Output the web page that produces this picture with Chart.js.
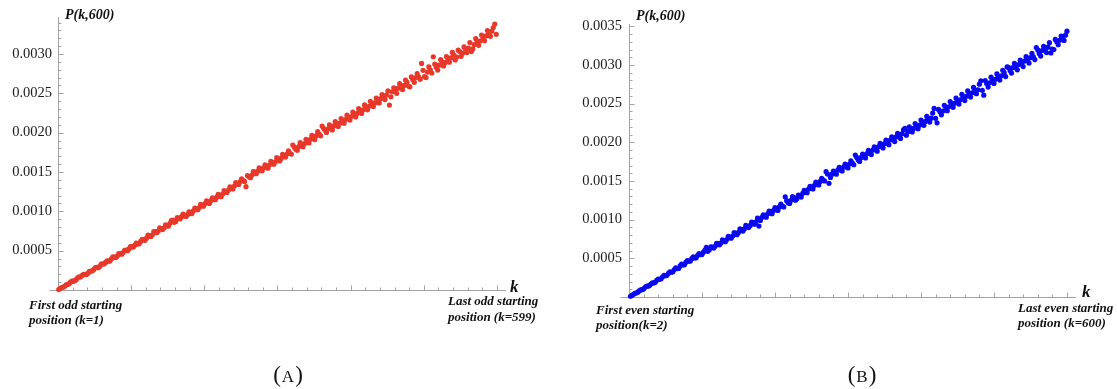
<!DOCTYPE html>
<html>
<head>
<meta charset="utf-8">
<title>P(k,600)</title>
<script src="https://cdn.jsdelivr.net/npm/chart.js@4.4.1/dist/chart.umd.min.js"></script>
<style>
    html, body { margin: 0; padding: 0; background: #fff; }
    body { position: relative; width: 1117px; height: 389px; overflow: hidden; }
    .panel { position: absolute; top: 0; height: 389px; }
    #panelA { left: 0; width: 560px; }
    #panelB { left: 560px; width: 557px; }
</style>
</head>
<body>
<div class="panel" id="panelA"><canvas id="chartA"></canvas></div>
<div class="panel" id="panelB"><canvas id="chartB"></canvas></div>
<script>
// P(k,600), in units of 1e-6.
// odd starts: k = 1, 5, 9, ... 597 and then 599
const oddValues = [
    6, 31, 47, 70, 99, 112, 134, 166, 185, 198,
    214, 240, 262, 289, 300, 331, 350, 366, 395, 418,
    430, 462, 476, 507, 522, 548, 571, 585, 618, 638,
    660, 690, 702, 741, 750, 782, 790, 815, 848, 889,
    872, 912, 935, 944, 958, 975, 1005, 1031, 1048, 1072,
    1098, 1110, 1135, 1158, 1180, 1192, 1220, 1248, 1270, 1295,
    1322, 1352, 1378, 1390, 1313, 1440, 1462, 1498, 1510, 1530,
    1552, 1560, 1588, 1618, 1630, 1668, 1672, 1705, 1728, 1738,
    1842, 1790, 1822, 1848, 1862, 1890, 1915, 1934, 1962, 1980,
    2084, 2030, 2045, 2062, 2085, 2108, 2120, 2150, 2165, 2190,
    2205, 2232, 2244, 2280, 2290, 2325, 2335, 2370, 2378, 2410,
    2432, 2445, 2478, 2350, 2520, 2525, 2565, 2590, 2600, 2640,
    2583, 2675, 2700, 2710, 2880, 2712, 2770, 2795, 2965, 2830,
    2858, 2900, 2890, 2940, 2950, 2985, 2960, 3030, 3010, 3062,
    3075, 3030, 3120, 3160, 3165, 3205, 3230, 3262, 3290, 3380,
    3250
];
// odd starts in between: k = 3, 7, 11, ... 595
const oddValuesMid = [
    20, 36, 64, 80, 112, 118, 158, 168, 200, 196,
    238, 244, 285, 284, 328, 332, 372, 370, 420, 414,
    462, 455, 505, 500, 552, 545, 595, 588, 645, 632,
    698, 680, 742, 728, 790, 770, 828, 812, 882, 860,
    920, 905, 965, 935, 992, 972, 1042, 1020, 1088, 1066,
    1132, 1100, 1172, 1148, 1215, 1185, 1262, 1240, 1310, 1285,
    1365, 1340, 1412, 1380, 1455, 1428, 1505, 1478, 1552, 1515,
    1590, 1548, 1635, 1598, 1682, 1640, 1725, 1690, 1770, 1728,
    1815, 1775, 1872, 1822, 1915, 1870, 1965, 1912, 2012, 1960,
    2055, 2002, 2098, 2035, 2140, 2078, 2180, 2120, 2222, 2160,
    2262, 2200, 2305, 2245, 2352, 2290, 2398, 2332, 2440, 2378,
    2485, 2420, 2530, 2455, 2570, 2500, 2625, 2548, 2668, 2592,
    2708, 2640, 2752, 2678, 2792, 2700, 2835, 2758, 2872, 2795,
    2930, 2848, 2968, 2895, 3020, 2925, 3048, 2970, 3090, 3018,
    3145, 3065, 3195, 3110, 3240, 3168, 3298, 3225, 3335
];
// even starts: k = 2, 6, 10, ... 598 and then 600
const evenValues = [
    10, 35, 52, 80, 95, 125, 140, 168, 182, 215,
    228, 262, 275, 306, 320, 355, 368, 402, 415, 450,
    462, 496, 505, 540, 548, 580, 642, 612, 645, 655,
    690, 698, 730, 742, 775, 788, 822, 835, 870, 880,
    915, 925, 960, 972, 917, 1030, 1040, 1075, 1085, 1120,
    1130, 1165, 1175, 1296, 1220, 1250, 1285, 1270, 1300, 1340,
    1358, 1395, 1405, 1445, 1458, 1495, 1510, 1620, 1470, 1588,
    1600, 1640, 1645, 1680, 1685, 1720, 1730, 1835, 1770, 1805,
    1815, 1855, 1860, 1900, 1905, 1945, 1950, 1985, 1990, 2030,
    2032, 2070, 2075, 2110, 2180, 2138, 2175, 2180, 2215, 2222,
    2260, 2270, 2305, 2312, 2438, 2252, 2395, 2405, 2450, 2460,
    2495, 2505, 2540, 2550, 2585, 2595, 2630, 2640, 2675, 2680,
    2795, 2610, 2760, 2770, 2810, 2815, 2850, 2860, 2900, 2975,
    2930, 2965, 2970, 3005, 3015, 3050, 3060, 3095, 3105, 3226,
    3150, 3185, 3195, 3230, 3156, 3200, 3300, 3320, 3340, 3385,
    3437
];
// even starts in between: k = 4, 8, 12, ... 596
const evenValuesMid = [
    20, 48, 62, 94, 104, 140, 148, 184, 190, 230,
    236, 280, 280, 326, 325, 376, 370, 424, 418, 472,
    464, 518, 506, 562, 548, 606, 590, 648, 632, 695,
    675, 738, 715, 784, 760, 832, 806, 880, 852, 925,
    898, 970, 942, 1020, 990, 1062, 1032, 1110, 1078, 1155,
    1120, 1200, 1165, 1245, 1210, 1298, 1252, 1318, 1292, 1380,
    1348, 1432, 1398, 1485, 1448, 1535, 1500, 1590, 1545, 1628,
    1588, 1678, 1630, 1718, 1668, 1762, 1710, 1805, 1752, 1848,
    1798, 1895, 1842, 1942, 1885, 1988, 1928, 2030, 1970, 2072,
    2010, 2115, 2050, 2160, 2092, 2200, 2135, 2242, 2175, 2288,
    2220, 2335, 2262, 2378, 2310, 2425, 2355, 2478, 2408, 2528,
    2452, 2572, 2495, 2620, 2540, 2665, 2585, 2710, 2628, 2752,
    2672, 2798, 2715, 2842, 2762, 2885, 2805, 2932, 2850, 2968,
    2895, 3020, 2938, 3062, 2980, 3108, 3025, 3152, 3070, 3195,
    3115, 3242, 3160, 3288, 3205, 3330, 3262, 3375, 3318
];
const kStep = 4;

const yLabelsA = ["0.0005", "0.0010", "0.0015", "0.0020", "0.0025", "0.0030"];
const yLabelsB = ["0.0005", "0.0010", "0.0015", "0.0020", "0.0025", "0.0030", "0.0035"];

const axisColor = "#a3a3a3";
const serif = '"Liberation Serif", "Times New Roman", serif';

// sampled values -> scatter points; the optional last value sits at k = last
function toPoints(values, first, last) {
    return values.map((v, i) => ({
        x: last && i === values.length - 1 ? last : first + kStep * i,
        y: v / 1e6
    }));
}

// minor ticks, axis stub and all the labels around one panel
function panelDecor(p) {
    return {
        id: "panelDecor",
        beforeDatasetsDraw(chart) {
            const { ctx, chartArea, scales } = chart;
            const x = scales.x, y = scales.y;
            const left = Math.round(chartArea.left) + 0.5;
            const bottom = Math.round(chartArea.bottom) + 0.5;

            ctx.save();
            ctx.strokeStyle = axisColor;
            ctx.lineWidth = 1;
            ctx.beginPath();
            // x axis runs a bit past the origin
            ctx.moveTo(left - 9, bottom);
            ctx.lineTo(left, bottom);
            // y ticks every 0.0001, longer every 0.0005
            for (let i = 1; i * 0.0001 <= y.max; i++) {
                const py = Math.round(y.getPixelForValue(i * 0.0001)) + 0.5;
                ctx.moveTo(left, py);
                ctx.lineTo(left + (i % 5 === 0 ? 5 : 3), py);
            }
            // x ticks every 20, longer every 100
            for (let i = 1; i * 20 <= 600; i++) {
                const px = Math.round(x.getPixelForValue(i * 20)) + 0.5;
                ctx.moveTo(px, bottom);
                ctx.lineTo(px, bottom - (i % 5 === 0 ? 5 : 3));
            }
            ctx.stroke();

            ctx.fillStyle = "#111";
            ctx.textBaseline = "alphabetic";
            ctx.textAlign = "left";
            ctx.font = "italic bold 14px " + serif;
            ctx.fillText("P(k,600)", p.title.x, p.title.y);

            ctx.font = "italic bold 17px " + serif;
            ctx.fillText("k", p.kLabel.x, p.kLabel.y);

            ctx.font = "italic bold 13px " + serif;
            p.notes.forEach((n) => ctx.fillText(n.text, n.x, n.y));

            // caption like "(A)" with a small capital letter
            const big = "23px " + serif, small = "17px " + serif;
            ctx.font = big;
            const wp = ctx.measureText("(").width;
            const wq = ctx.measureText(")").width;
            ctx.font = small;
            const wl = ctx.measureText(p.caption.letter).width;
            let cx = p.caption.x - (wp + wl + wq + 2) / 2;
            ctx.font = big;
            ctx.fillText("(", cx, p.caption.y);
            cx += wp + 1;
            ctx.font = small;
            ctx.fillText(p.caption.letter, cx, p.caption.y);
            cx += wl + 1;
            ctx.font = big;
            ctx.fillText(")", cx, p.caption.y);
            ctx.restore();
        }
    };
}

function makePanel(canvasId, p) {
    return new Chart(document.getElementById(canvasId), {
        type: "scatter",
        data: {
            datasets: [{
                data: p.points,
                backgroundColor: p.color,
                borderWidth: 0,
                pointRadius: 2.6,
                clip: false
            }]
        },
        options: {
            responsive: true,
            maintainAspectRatio: false,
            animation: false,
            events: [],
            layout: {
                padding: { left: 0, top: p.area.top, right: p.width - p.area.right, bottom: 0 }
            },
            plugins: {
                legend: { display: false },
                tooltip: { enabled: false }
            },
            scales: {
                x: {
                    type: "linear",
                    min: 0,
                    max: 611,
                    grid: { display: false, drawTicks: false },
                    border: { display: true, color: axisColor },
                    ticks: { display: false },
                    afterFit(scale) { scale.height = p.height - p.area.bottom; }
                },
                y: {
                    type: "linear",
                    min: 0,
                    max: p.yMax,
                    grid: { display: false, drawTicks: false },
                    border: { display: true, color: axisColor },
                    ticks: {
                        padding: p.labelGap,
                        color: "#1c1c1c",
                        font: { family: serif, size: 14.5 },
                        callback: (v) => v.toFixed(4)
                    },
                    afterBuildTicks(scale) {
                        scale.ticks = p.yLabels.map((t) => ({ value: parseFloat(t) }));
                    },
                    afterFit(scale) { scale.width = p.area.left; }
                }
            }
        },
        plugins: [panelDecor(p)]
    });
}

makePanel("chartA", {
    points: toPoints(oddValues, 1, 599).concat(toPoints(oddValuesMid, 3)),
    color: "#e8382a",
    yLabels: yLabelsA,
    yMax: 0.00347,
    width: 560,
    height: 389,
    area: { left: 58, top: 17, right: 505, bottom: 290 },
    labelGap: 6,
    title: { x: 65, y: 18.5 },
    kLabel: { x: 510, y: 292 },
    notes: [
        { text: "First odd starting", x: 29, y: 309 },
        { text: "position (k=1)", x: 29, y: 324 },
        { text: "Last odd starting", x: 448, y: 305 },
        { text: "position (k=599)", x: 448, y: 320.5 }
    ],
    caption: { letter: "A", x: 288, y: 382 }
});

makePanel("chartB", {
    points: toPoints(evenValues, 2, 600).concat(toPoints(evenValuesMid, 4)),
    color: "#0a0af0",
    yLabels: yLabelsB,
    yMax: 0.00353,
    width: 557,
    height: 389,
    area: { left: 69, top: 24, right: 515, bottom: 297 },
    labelGap: 7,
    title: { x: 76, y: 19.5 },
    kLabel: { x: 522, y: 297 },
    notes: [
        { text: "First even starting", x: 36, y: 313.5 },
        { text: "position(k=2)", x: 36, y: 329 },
        { text: "Last even starting", x: 458, y: 312 },
        { text: "position (k=600)", x: 458, y: 327 }
    ],
    caption: { letter: "B", x: 302, y: 382 }
});
</script>
</body>
</html>
